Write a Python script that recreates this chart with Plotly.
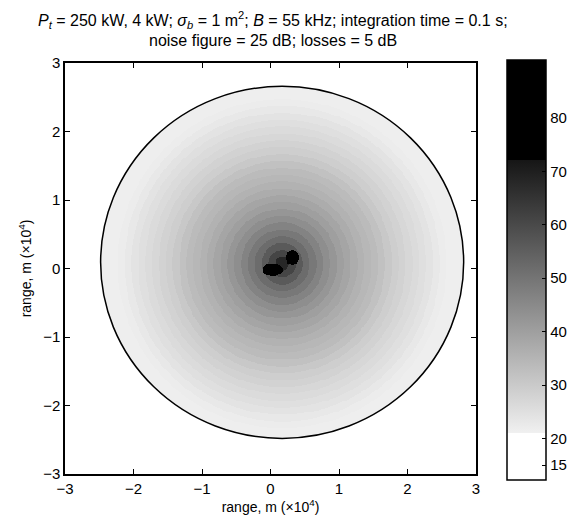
import numpy as np
import plotly.graph_objects as go

# coverage circle (x1e4 m)
circle_center = [0.17, 0.09]
circle_radius = [2.65, 2.57]

# SNR bands: outer radius of each band and its SNR (dB)
field_center = [0.17, 0.07]
band_radius = [0.1, 0.2, 0.3, 0.4, 0.5, 0.6, 0.7, 0.8, 0.9, 1.0,
               1.1, 1.2, 1.3, 1.4, 1.5, 1.6, 1.7, 1.8, 1.9, 2.0,
               2.1, 2.2, 2.3, 2.4, 2.8]
band_snr = [68, 61, 56, 52, 49, 46.5, 44, 42, 40, 38.5,
            37, 35.5, 34.5, 33.5, 32, 30.5, 29, 28, 27, 26,
            25, 24, 23, 22, 21.5]

# the two radar sites (dark blobs)
site_x = [0.03, 0.32]
site_y = [-0.02, 0.16]
site_rx = [0.15, 0.10]
site_ry = [0.09, 0.11]
site_snr = [88, 91]

cbar_ticks = [15, 20, 30, 40, 50, 60, 70, 80]

title_lines = ['<i>P</i><sub><i>t</i></sub> = 250 kW, 4 kW; <i>σ</i><sub><i>b</i></sub> = 1 m<sup>2</sup>; '
               '<i>B</i> = 55 kHz; integration time = 0.1 s;',
               'noise figure = 25 dB; losses = 5 dB']

xs = np.linspace(-3, 3, 451)
ys = np.linspace(-3, 3, 451)
X, Y = np.meshgrid(xs, ys)

r = np.hypot(X - field_center[0], Y - field_center[1])
idx = np.clip(np.searchsorted(band_radius, r), 0, len(band_snr) - 1)
z = np.array(band_snr, dtype=float)[idx]
for sx, sy, rx, ry, s in zip(site_x, site_y, site_rx, site_ry, site_snr):
    inside = ((X - sx) / rx) ** 2 + ((Y - sy) / ry) ** 2 <= 1
    z[inside] = s
outside = ((X - circle_center[0]) / circle_radius[0]) ** 2 + \
          ((Y - circle_center[1]) / circle_radius[1]) ** 2 > 1
z[outside] = np.nan
z = np.round(z, 1)

zmin, zmax = 12.2, 90.8
def f(v):
    return (v - zmin) / (zmax - zmin)

scale = [[0, 'white'], [f(21), 'white'], [f(21) + 0.001, 'rgb(240,240,240)'],
         [f(72), 'rgb(22,22,22)'], [f(72) + 0.001, 'black'], [1, 'black']]

fig = go.Figure(go.Heatmap(
    x=xs, y=ys, z=z, zmin=zmin, zmax=zmax, colorscale=scale,
    hoverongaps=False,
    colorbar=dict(
        x=1.075, xanchor='left', y=0.496, yanchor='middle',
        xpad=0, ypad=0,
        thickness=39, len=420, lenmode='pixels',
        outlinewidth=1.5, outlinecolor='black',
        tickvals=cbar_ticks, ticks='inside', ticklen=4, tickcolor='black',
        tickfont=dict(size=15, color='black'),
    ),
))

fig.add_shape(type='circle', xref='x', yref='y',
              x0=circle_center[0] - circle_radius[0], x1=circle_center[0] + circle_radius[0],
              y0=circle_center[1] - circle_radius[1], y1=circle_center[1] + circle_radius[1],
              line=dict(color='black', width=1.5))

# two title lines as annotations (gives control over line spacing)
for txt, yy in zip(title_lines, [1.104, 1.054]):
    fig.add_annotation(text=txt, xref='paper', yref='paper', x=0.506, y=yy,
                       xanchor='center', yanchor='middle', showarrow=False,
                       font=dict(size=16, color='black'))

axis = dict(range=[-3, 3], tickvals=[-3, -2, -1, 0, 1, 2, 3], ticks='inside',
            ticklen=5, tickcolor='black', showline=True, linewidth=1.5,
            linecolor='black', mirror='ticks', showgrid=False, zeroline=False,
            tickfont=dict(size=15, color='black'))

# page body has an 8px margin, so the figure is 8px smaller than the window
fig.update_layout(
    width=567, height=516,
    margin=dict(l=57, r=99, t=55, b=50, autoexpand=False),
    paper_bgcolor='white', plot_bgcolor='white',
    font=dict(family='Liberation Sans, Arial, sans-serif', color='black'),
    xaxis=dict(axis, title=dict(text='range, m (×10<sup>4</sup>)', font=dict(size=14), standoff=4)),
    yaxis=dict(axis, title=dict(text='range, m (×10<sup>4</sup>)', font=dict(size=14), standoff=8)),
)

fig.write_html("out.html")
